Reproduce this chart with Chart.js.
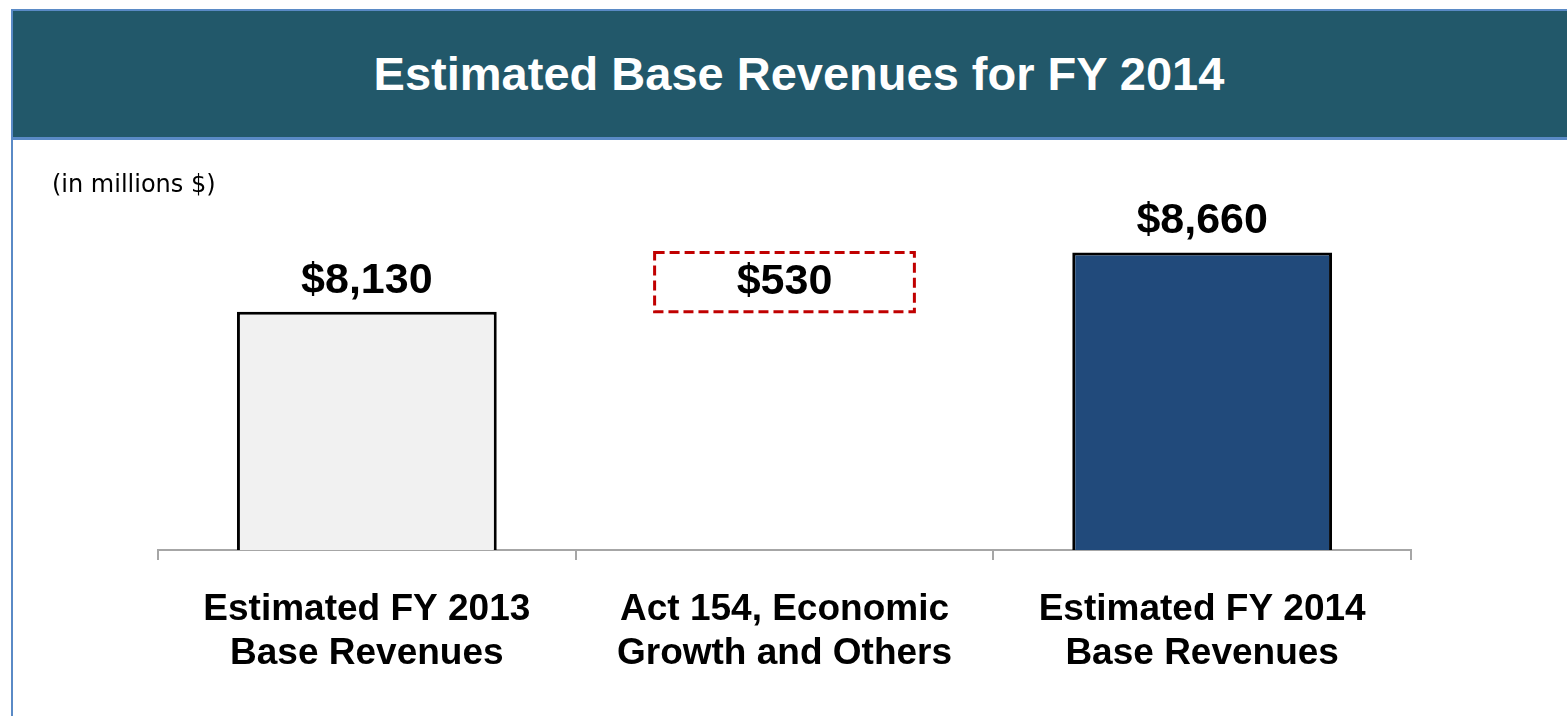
<!DOCTYPE html>
<html>
<head>
<meta charset="utf-8">
<script src="https://cdn.jsdelivr.net/npm/chart.js@4.4.1/dist/chart.umd.min.js"></script>
<style>
  html, body { margin: 0; padding: 0; background: #fff; }
  body { width: 1567px; height: 716px; overflow: hidden; position: relative; }
  #frame {
    position: absolute; left: 11px; top: 9px; width: 1600px; height: 800px;
    border-left: 2px solid #5a8ac6; border-top: 2px solid #5a8ac6;
  }
  #header {
    position: absolute; left: 13px; top: 11px; width: 1566px; height: 126px;
    background: #22586a; border-bottom: 3px solid #5a8ac6;
    color: #fff; font: bold 47px "Liberation Sans", Arial, sans-serif;
    line-height: 126px; text-align: center; z-index: 2;
  }
  #header span { position: relative; left: 3px; }
  #note {
    position: absolute; left: 52px; top: 170px; z-index: 2;
    font: 24px "DejaVu Sans", Verdana, sans-serif; color: #000;
  }
  #chart { position: absolute; left: 0; top: 0; z-index: 1; }
</style>
</head>
<body>
<div id="frame"></div>
<div id="header"><span>Estimated Base Revenues for FY 2014</span></div>
<div id="note">(in millions $)</div>
<canvas id="chart" width="1567" height="716"></canvas>
<script>
// values in millions of dollars
const categories = [
  ["Estimated FY 2013", "Base Revenues"],
  ["Act 154, Economic", "Growth and Others"],
  ["Estimated FY 2014", "Base Revenues"],
];
const values = [8130, 530, 8660];
const valueLabels = ["$8,130", "$530", "$8,660"];
const fillColors = ["#f1f1f1", "rgba(0,0,0,0)", "#214a7b"];
const edgeColors = ["#000000", "rgba(0,0,0,0)", "#000000"];

// middle bar floats from FY 2013 up to FY 2014
const barData = [values[0], [values[0], values[2]], values[2]];

const labelFont = "bold 43px 'Liberation Sans', Arial, sans-serif";

const barLabels = {
  id: "barLabels",
  afterDatasetsDraw(chart) {
    const { ctx } = chart;
    const meta = chart.getDatasetMeta(0);
    ctx.save();
    meta.data.forEach((bar, i) => {
      const { x, y, base, width } = bar.getProps(["x", "y", "base", "width"], true);
      ctx.fillStyle = "#000";
      ctx.font = labelFont;
      ctx.textAlign = "center";
      ctx.textBaseline = "middle";
      if (Array.isArray(barData[i])) {
        ctx.setLineDash([10, 5]);
        ctx.lineWidth = 3;
        ctx.strokeStyle = "#c00000";
        ctx.strokeRect(x - width / 2, y, width, base - y);
        ctx.setLineDash([]);
        ctx.fillText(valueLabels[i], x, (y + base) / 2);
      } else {
        ctx.fillText(valueLabels[i], x, y - 31);
      }
    });
    ctx.restore();
  },
};

const ctx = document.getElementById("chart").getContext("2d");
const myChart = new Chart(ctx, {
  type: "bar",
  data: {
    labels: categories,
    datasets: [
      {
        data: barData,
        backgroundColor: fillColors,
        borderColor: edgeColors,
        borderWidth: 3,
        borderSkipped: false,
        categoryPercentage: 1,
        barPercentage: 0.622,
      },
    ],
  },
  options: {
    responsive: false,
    animation: false,
    layout: {
      padding: { left: 158, right: 156, top: 158.5, bottom: 12 },
    },
    plugins: {
      legend: { display: false },
      tooltip: { enabled: false },
    },
    scales: {
      x: {
        grid: {
          drawOnChartArea: false,
          drawTicks: true,
          tickLength: 10,
          color: "#a6a6a6",
          lineWidth: 2,
        },
        border: { display: true, color: "#a6a6a6", width: 2 },
        ticks: {
          color: "#000",
          padding: 28,
          maxRotation: 0,
          font: {
            family: "'Liberation Sans', Arial, sans-serif",
            size: 37,
            weight: "bold",
            lineHeight: 1.19,
          },
        },
      },
      y: {
        display: false,
        min: 6000,
        max: 9500,
      },
    },
  },
  plugins: [barLabels],
});
</script>
</body>
</html>
